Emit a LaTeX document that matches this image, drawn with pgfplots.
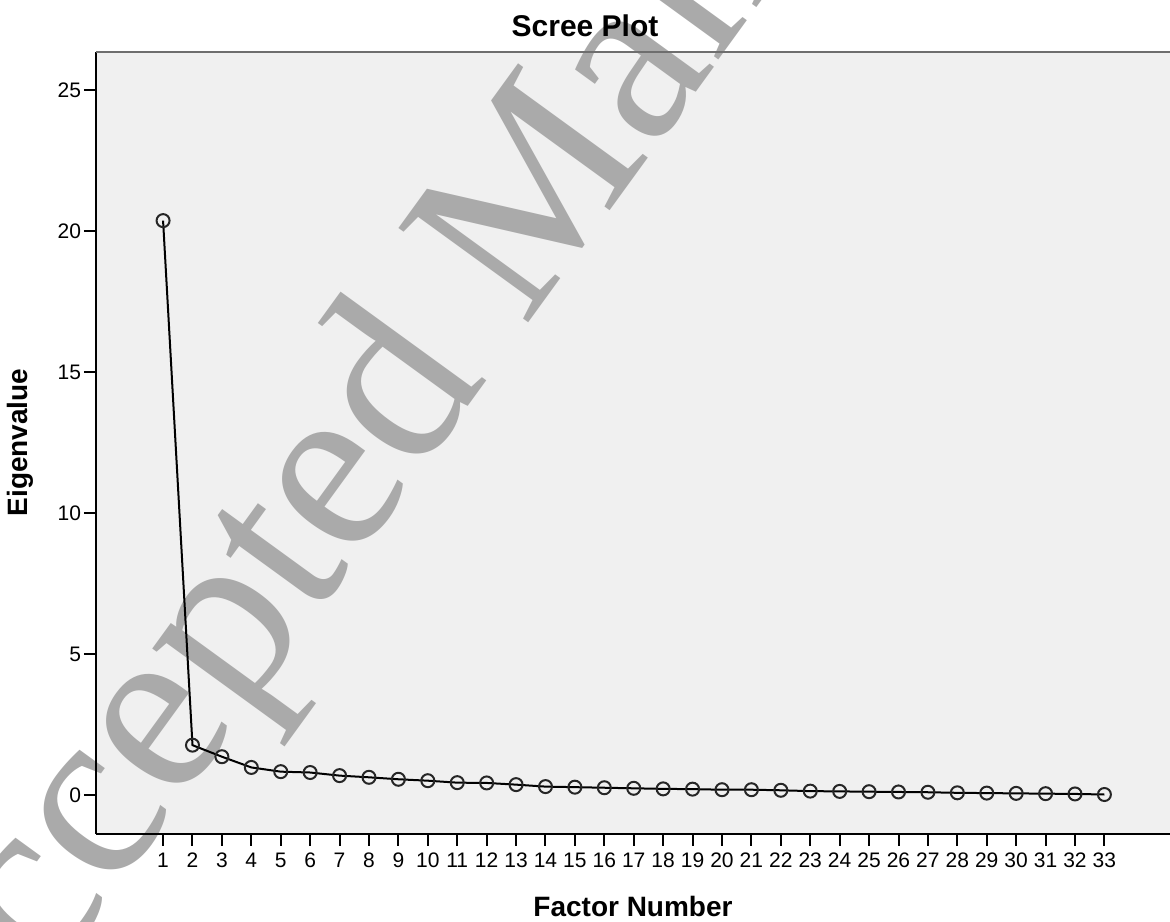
\documentclass[border=0pt]{standalone}
\usepackage{pgfplots}
\pgfplotsset{compat=1.18}
\usepackage{fontspec}
\setmainfont{Liberation Sans}
\newfontfamily\wmfont{Liberation Serif}
\definecolor{plotbg}{RGB}{240,240,240}
\definecolor{wm}{RGB}{170,170,170}
\definecolor{topline}{RGB}{110,110,110}
\begin{document}
\begin{tikzpicture}
\fill[plotbg] (48pt,43.65pt) rectangle (585pt,434.5pt);
\begin{scope}
\clip (0pt,0pt) rectangle (585pt,460.5pt);
\node[text=wm, font=\wmfont\fontsize{122.5}{130}\selectfont, rotate=54, anchor=base west, inner sep=0pt] at (-28pt,-103pt) {Accepted Manuscript};
\end{scope}
\begin{axis}[at={(48pt,43.65pt)}, anchor=south west, scale only axis,
  width=537pt, height=390.85pt,
  xmin=-1.28, xmax=35.23, ymin=-1.37, ymax=26.35,
  axis x line*=bottom, axis y line*=left,
  axis line style={line width=1pt, black, -},
  xtick={1,...,33}, ytick={0,5,10,15,20,25},
  tick align=outside, major tick length=6pt,
  tick style={line width=1pt, black},
  ticklabel style={font=\fontsize{10.5}{12}\selectfont},
  yticklabel style={xshift=2pt},
  /pgf/number format/assume math mode=true,
]
\addplot[black, line width=1pt, mark=o, mark size=3.25pt, mark options={line width=1pt, black!85}] coordinates {
(1,20.37) (2,1.77) (3,1.36) (4,0.98) (5,0.83) (6,0.80) (7,0.69) (8,0.63) (9,0.56) (10,0.51)
(11,0.44) (12,0.43) (13,0.37) (14,0.30) (15,0.28) (16,0.26) (17,0.24) (18,0.22) (19,0.21) (20,0.19)
(21,0.19) (22,0.17) (23,0.14) (24,0.13) (25,0.12) (26,0.11) (27,0.10) (28,0.08) (29,0.07) (30,0.06)
(31,0.05) (32,0.04) (33,0.02)
};
\draw[topline, line width=1pt] (rel axis cs:0,1) -- (rel axis cs:1,1);
\end{axis}
\node[anchor=base, font=\bfseries\fontsize{15}{18}\selectfont, inner sep=0pt] at (292.5pt,442pt) {Scree Plot};
\node[anchor=base, font=\bfseries\fontsize{14}{17}\selectfont, inner sep=0pt] at (316.5pt,2.5pt) {Factor Number};
\node[anchor=base, rotate=90, font=\bfseries\fontsize{14}{17}\selectfont, inner sep=0pt] at (13.75pt,239.25pt) {Eigenvalue};
\pgfresetboundingbox
\path[use as bounding box] (0pt,0pt) rectangle (585pt,460.5pt);
\end{tikzpicture}
\end{document}
